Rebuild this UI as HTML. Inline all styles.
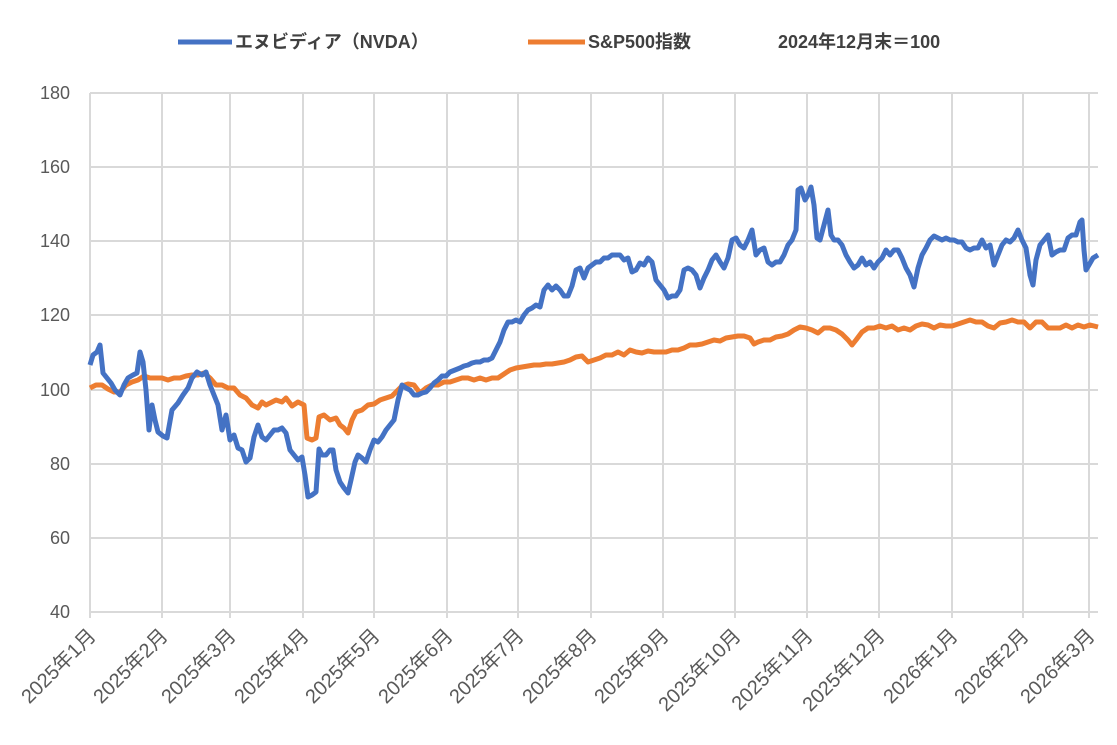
<!DOCTYPE html><html><head><meta charset="utf-8"><style>body{margin:0;background:#fff}svg{display:block}text{font-family:"Liberation Sans","Noto Sans CJK JP",sans-serif;fill:#595959}</style></head><body>
<svg width="1117" height="745" viewBox="0 0 1117 745">
<g stroke="#d9d9d9" stroke-width="2">
<line x1="90" y1="93" x2="1098" y2="93"/><line x1="90" y1="167" x2="1098" y2="167"/><line x1="90" y1="241" x2="1098" y2="241"/><line x1="90" y1="315" x2="1098" y2="315"/><line x1="90" y1="390" x2="1098" y2="390"/><line x1="90" y1="464" x2="1098" y2="464"/><line x1="90" y1="538" x2="1098" y2="538"/><line x1="90" y1="612" x2="1098" y2="612"/>
<line x1="90" y1="93" x2="90" y2="618"/><line x1="162" y1="93" x2="162" y2="618"/><line x1="230" y1="93" x2="230" y2="618"/><line x1="303" y1="93" x2="303" y2="618"/><line x1="374" y1="93" x2="374" y2="618"/><line x1="447" y1="93" x2="447" y2="618"/><line x1="518" y1="93" x2="518" y2="618"/><line x1="591" y1="93" x2="591" y2="618"/><line x1="663" y1="93" x2="663" y2="618"/><line x1="735" y1="93" x2="735" y2="618"/><line x1="807" y1="93" x2="807" y2="618"/><line x1="879" y1="93" x2="879" y2="618"/><line x1="952" y1="93" x2="952" y2="618"/><line x1="1023" y1="93" x2="1023" y2="618"/><line x1="1089" y1="93" x2="1089" y2="618"/>
</g>
<g font-size="18" text-anchor="end">
<text x="70" y="99">180</text><text x="70" y="173">160</text><text x="70" y="247">140</text><text x="70" y="321">120</text><text x="70" y="396">100</text><text x="70" y="470">80</text><text x="70" y="544">60</text><text x="70" y="618">40</text>
</g>
<g font-size="20" text-anchor="end">
<text transform="translate(97,637) rotate(-45)">2025年1月</text>
<text transform="translate(169,637) rotate(-45)">2025年2月</text>
<text transform="translate(237,637) rotate(-45)">2025年3月</text>
<text transform="translate(310,637) rotate(-45)">2025年4月</text>
<text transform="translate(381,637) rotate(-45)">2025年5月</text>
<text transform="translate(454,637) rotate(-45)">2025年6月</text>
<text transform="translate(525,637) rotate(-45)">2025年7月</text>
<text transform="translate(598,637) rotate(-45)">2025年8月</text>
<text transform="translate(670,637) rotate(-45)">2025年9月</text>
<text transform="translate(742,637) rotate(-45)">2025年10月</text>
<text transform="translate(814,637) rotate(-45)">2025年11月</text>
<text transform="translate(886,637) rotate(-45)">2025年12月</text>
<text transform="translate(959,637) rotate(-45)">2026年1月</text>
<text transform="translate(1030,637) rotate(-45)">2026年2月</text>
<text transform="translate(1096,637) rotate(-45)">2026年3月</text>
</g>
<polyline fill="none" stroke="#ED7D31" stroke-width="5" stroke-linejoin="round" points="90,388 96,385 102,385 108,389 114,392 120,392 126,385 132,382 138,380 144,376 150,378 156,378 162,378 168,380 174,378 180,378 186,376 192,375 198,375 204,373 210,378 216,385 222,385 228,388 234,388 240,395 246,398 252,405 258,408 262,402 266,405 270,403 276,400 282,402 286,398 292,406 298,402 304,405 307,438 312,440 316,438 319,417 324,415 330,420 336,418 340,425 344,428 348,433 352,420 356,412 362,410 368,405 374,404 380,400 386,398 392,396 398,390 402,386 408,384 414,385 420,393 426,388 432,385 438,385 444,382 450,382 456,380 462,378 468,378 474,380 480,378 486,380 492,378 498,378 504,374 510,370 516,368 522,367 528,366 534,365 540,365 546,364 552,364 558,363 564,362 570,360 576,357 582,356 588,362 594,360 600,358 606,355 612,355 618,352 624,355 630,350 636,352 642,353 648,351 654,352 660,352 666,352 672,350 678,350 684,348 690,345 696,345 702,344 708,342 714,340 720,341 726,338 732,337 738,336 744,336 750,338 754,344 758,342 764,340 770,340 776,337 782,336 788,334 794,330 800,327 806,328 812,330 818,333 824,328 830,328 836,330 842,334 848,340 852,345 856,340 862,332 868,328 874,328 880,326 886,328 892,326 898,330 904,328 910,330 916,326 922,324 928,325 934,328 940,325 946,326 952,326 958,324 964,322 970,320 976,322 982,322 988,326 994,328 1000,323 1006,322 1012,320 1018,322 1024,322 1030,328 1036,322 1042,322 1048,328 1054,328 1060,328 1066,325 1072,328 1078,325 1084,327 1090,325 1098,327"/>
<polyline fill="none" stroke="#4472C4" stroke-width="5" stroke-linejoin="round" points="90,365 93,355 97,352 100,345 103,373 107,378 111,383 115,390 120,395 124,385 128,378 133,375 137,373 140,352 143,362 146,390 149,430 152,405 155,420 158,432 163,436 167,438 172,410 178,403 183,395 188,388 192,378 197,372 202,375 206,372 210,385 214,395 218,405 222,430 226,415 230,440 234,435 238,448 242,450 246,462 250,458 254,437 258,425 262,437 266,440 270,435 274,430 278,430 282,428 286,433 290,450 294,455 298,460 302,457 305,475 308,497 312,495 316,492 319,449 322,455 326,455 330,450 333,450 336,470 340,482 344,488 348,493 351,480 355,462 358,455 362,458 366,462 370,450 374,440 378,442 382,437 386,430 390,425 394,420 398,400 402,385 406,388 410,390 414,395 418,395 422,393 426,392 430,388 434,383 438,380 442,376 446,376 450,372 455,370 460,368 464,366 468,365 472,363 476,362 480,362 484,360 488,360 492,358 496,350 500,342 504,330 508,322 512,322 516,320 520,322 524,315 528,310 532,308 536,305 540,307 544,290 548,285 552,290 556,286 560,290 564,296 568,296 572,286 576,270 580,268 584,278 588,268 592,265 596,262 600,262 604,258 608,258 612,255 616,255 620,255 624,260 628,258 632,272 636,270 640,263 644,265 648,258 652,262 656,280 660,285 664,290 668,298 672,296 676,296 680,290 684,270 688,268 692,270 696,275 700,288 704,278 708,270 712,260 716,255 720,262 724,268 728,258 732,240 736,238 740,245 744,248 748,240 752,230 756,255 760,250 764,248 768,262 772,265 776,262 780,262 784,255 788,245 792,240 796,230 798,190 801,188 805,200 808,195 811,187 814,205 817,238 820,240 824,225 828,210 831,235 834,240 838,240 842,245 846,255 850,262 854,268 858,265 862,258 866,265 870,262 874,268 878,262 882,258 886,250 890,255 894,250 898,250 902,258 906,268 910,275 914,287 918,268 922,255 926,248 930,240 934,236 938,238 942,240 946,238 950,240 954,240 958,242 962,242 966,248 970,250 974,248 978,248 982,240 986,248 990,245 994,265 998,255 1002,245 1006,240 1010,242 1014,238 1018,230 1022,240 1026,248 1030,275 1033,285 1036,260 1040,245 1044,240 1048,235 1052,255 1056,252 1060,250 1064,250 1068,238 1072,235 1076,235 1080,222 1082,220 1084,250 1086,270 1089,265 1093,258 1098,255"/>
<line x1="178" y1="42" x2="232" y2="42" stroke="#4472C4" stroke-width="5"/>
<text x="235" y="48" font-size="18" font-weight="bold" style="fill:#404040">エヌビディア（NVDA）</text>
<line x1="528" y1="42" x2="585" y2="42" stroke="#ED7D31" stroke-width="5"/>
<text x="588" y="48" font-size="18" font-weight="bold" style="fill:#404040">S&amp;P500指数</text>
<text x="778" y="48" font-size="18" font-weight="bold" style="fill:#404040">2024年12月末＝100</text>
</svg></body></html>
